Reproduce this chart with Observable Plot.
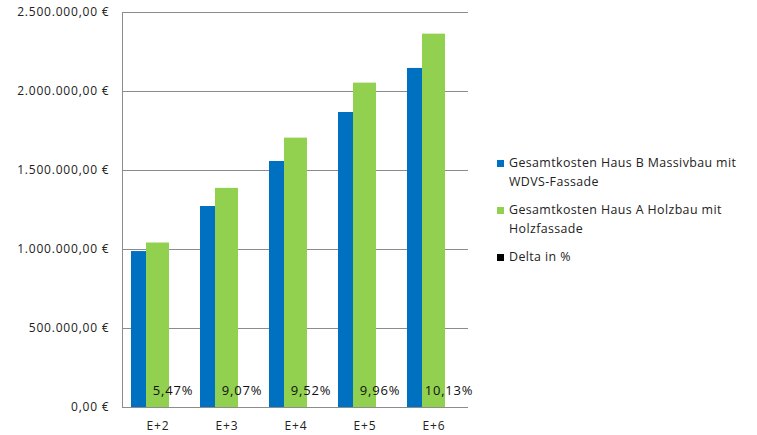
<!DOCTYPE html>
<html>
<head>
<meta charset="utf-8">
<script src="https://cdn.jsdelivr.net/npm/d3@7"></script>
<script src="https://cdn.jsdelivr.net/npm/@observablehq/plot@0.6"></script>
<style>
  html, body { margin: 0; padding: 0; background: #fff; }
  #wrap { position: relative; width: 757px; height: 435px; font-family: "Open Sans", sans-serif; }
  #wrap svg { position: absolute; left: 0; top: 0; }
  #legend { position: absolute; left: 497px; top: 154px; width: 255px; font-size: 12.4px; color: #222; letter-spacing: 0.4px; }
  .item { display: flex; align-items: flex-start; line-height: 18.5px; margin-bottom: 10px; }
  .swatch { width: 7px; height: 7px; flex: none; margin-top: 6px; margin-right: 5px; }
</style>
</head>
<body>
<div id="wrap"><div id="legend"></div></div>
<script>
// Stages of the cost comparison
const categories = ["E+2", "E+3", "E+4", "E+5", "E+6"];
// Total costs (EUR) per house
const massivbau = [987000, 1272000, 1557000, 1867000, 2146000];
const holzbau = [1041000, 1387000, 1705000, 2053000, 2363000];
// Additional cost of the timber house, in percent
const deltaPct = [5.47, 9.07, 9.52, 9.96, 10.13];
// Series names and colours
const seriesNames = [
  "Gesamtkosten Haus B Massivbau mit WDVS-Fassade",
  "Gesamtkosten Haus A Holzbau mit Holzfassade",
  "Delta in %"
];
const seriesColors = ["#0070C0", "#92D050", "#000000"];
const yTicks = [0, 500000, 1000000, 1500000, 2000000, 2500000];

const rows = categories.map((c, i) => ({
  cat: c, b: massivbau[i], a: holzbau[i], delta: deltaPct[i]
}));

const de = d3.formatLocale({decimal: ",", thousands: ".", grouping: [3], currency: ["", " €"]});
const euro = de.format("$,.2f");
const pct = de.format(",.2f");

const chart = Plot.plot({
  width: 480,
  height: 435,
  marginLeft: 122,
  marginRight: 12,
  marginTop: 12,
  marginBottom: 28,
  style: {fontFamily: "Open Sans, sans-serif", fontSize: "12px", color: "#222", letterSpacing: "0.8px"},
  x: {domain: categories, paddingInner: 2 / 3, paddingOuter: 1 / 3, label: null},
  y: {domain: [0, 2500000], label: null},
  marks: [
    Plot.gridY(yTicks, {stroke: "#8c8c8c", strokeOpacity: 1}),
    Plot.frame({anchor: "left", stroke: "#8c8c8c"}),
    Plot.ruleY([0], {stroke: "#8c8c8c"}),
    Plot.barY(rows, {x: "cat", y: "b", fill: seriesColors[0], dx: -15}),
    Plot.barY(rows, {x: "cat", y: "a", fill: seriesColors[1], dx: 0}),
    Plot.barY(rows, {x: "cat", y: "delta", fill: seriesColors[2], dx: 15}),
    Plot.text(rows, {x: "cat", y: "delta", text: d => pct(d.delta) + "%", dx: 15, dy: -17, fill: "#111", fontSize: 13, letterSpacing: "0.4px"}),
    Plot.axisY(yTicks, {tickSize: 0, tickPadding: 13, tickFormat: euro, fill: "#222"}),
    Plot.axisX({tickSize: 0, tickPadding: 14, fill: "#222"})
  ]
});
document.getElementById("wrap").prepend(chart);

const legend = document.getElementById("legend");
seriesNames.forEach((name, i) => {
  const item = document.createElement("div");
  item.className = "item";
  const sw = document.createElement("span");
  sw.className = "swatch";
  sw.style.background = seriesColors[i];
  const label = document.createElement("span");
  label.textContent = name;
  item.append(sw, label);
  legend.append(item);
});
</script>
</body>
</html>
